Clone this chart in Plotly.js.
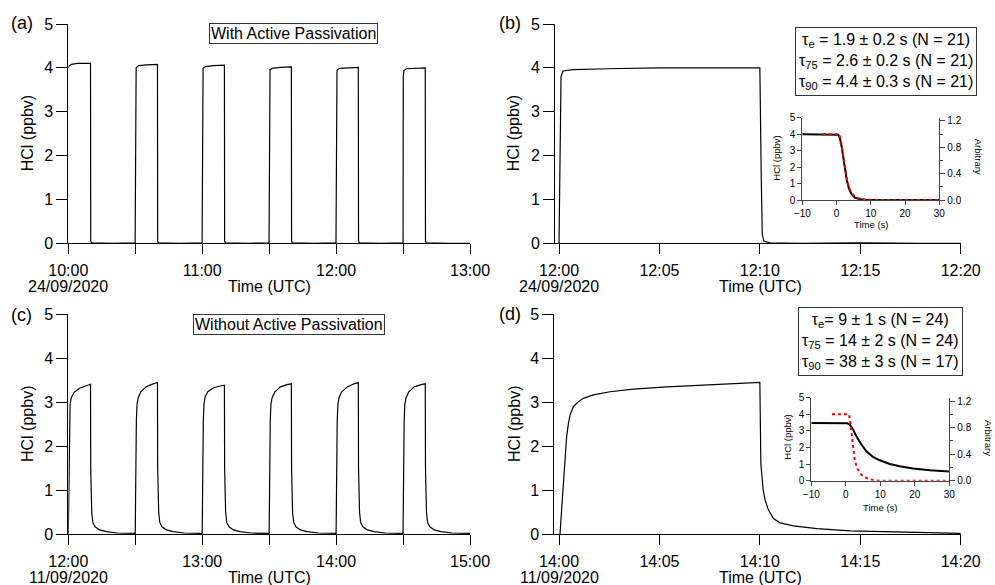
<!DOCTYPE html>
<html><head><meta charset="utf-8">
<script src="https://cdn.plot.ly/plotly-3.0.1.min.js"></script>
<style>html,body{margin:0;padding:0;background:#fff}#chart{width:995px;height:585px}</style>
</head><body><div id="chart"></div>
<script>
// ---------- data (minutes after the panel start time, HCl in ppbv) ----------
const dayA = '2020-09-24', dayC = '2020-09-11';
const dateLabelA = '24/09/2020', dateLabelC = '11/09/2020';

// (a) with active passivation, 10:00 - 13:00
const aMin = [0,0.3,1.5,4,9.95,10.05,10.4,20,29.95,
  30,30.1,30.4,31.5,35,39.95,40.05,40.4,50,59.95,
  60,60.1,60.4,61.5,65,69.95,70.05,70.4,80,89.95,
  90,90.1,90.4,91.5,95,99.95,100.05,100.4,110,119.95,
  120,120.1,120.4,121.5,125,129.95,130.05,130.4,140,149.95,
  150,150.1,150.4,151.5,155,159.95,160.05,160.4,170,180];
const aHCl = [4.0,4.04,4.08,4.1,4.1,0.05,0.01,0.0,0.01,
  0.01,3.85,4.0,4.05,4.07,4.08,0.05,0.01,0.0,0.01,
  0.01,3.85,3.99,4.03,4.05,4.06,0.05,0.01,0.0,0.01,
  0.01,3.82,3.96,3.99,4.01,4.02,0.05,0.01,0.0,0.01,
  0.01,3.82,3.95,3.99,4.0,4.01,0.05,0.01,0.0,0.01,
  0.01,3.8,3.94,3.98,3.99,4.0,0.05,0.01,0.0,0.0];

// (b) single pulse, 12:00 - 12:20
const bMin = [0,0.05,0.1,0.2,0.7,2.4,5,8,10.0,10.07,10.12,10.2,10.5,12,15,18,20];
const bHCl = [0,2.5,3.8,3.93,3.96,3.98,4.0,4.0,4.0,1.5,0.2,0.05,0.01,0.0,0.01,0.0,0.0];

// (c) without active passivation, 12:00 - 15:00
const cMin = [0,0.15,0.3,0.5,0.8,1.3,2.5,5,8,9.95,10.05,10.2,10.5,11,12,14,17,22,29.9,
  30,30.15,30.3,30.5,30.8,31.3,32.5,35,38,39.95,40.05,40.2,40.5,41,42,44,47,52,59.9,
  60,60.15,60.3,60.5,60.8,61.3,62.5,65,68,69.95,70.05,70.2,70.5,71,72,74,77,82,89.9,
  90,90.15,90.3,90.5,90.8,91.3,92.5,95,98,99.95,100.05,100.2,100.5,101,102,104,107,112,119.9,
  120,120.15,120.3,120.5,120.8,121.3,122.5,125,128,129.95,130.05,130.2,130.5,131,132,134,137,142,149.9,
  150,150.15,150.3,150.5,150.8,151.3,152.5,155,158,159.95,160.05,160.2,160.5,161,162,164,167,172,180];
const cHCl = [0,0.8,1.9,2.6,2.95,3.1,3.22,3.32,3.38,3.41,1.5,0.95,0.5,0.27,0.17,0.1,0.06,0.03,0.02,
  0.02,0.8,1.9,2.6,2.95,3.1,3.24,3.36,3.42,3.45,1.5,0.95,0.5,0.27,0.17,0.1,0.06,0.03,0.02,
  0.02,0.8,1.9,2.6,2.95,3.12,3.24,3.33,3.37,3.39,1.5,0.95,0.5,0.27,0.17,0.1,0.06,0.03,0.02,
  0.02,0.8,1.9,2.6,2.95,3.1,3.23,3.35,3.4,3.42,1.5,0.95,0.5,0.27,0.17,0.1,0.06,0.03,0.02,
  0.02,0.8,1.9,2.6,2.95,3.1,3.24,3.35,3.42,3.45,1.5,0.95,0.5,0.27,0.17,0.1,0.06,0.03,0.02,
  0.02,0.8,1.9,2.6,2.95,3.1,3.23,3.35,3.4,3.42,1.5,0.95,0.5,0.27,0.17,0.1,0.06,0.03,0.02];

// (d) single pulse, 14:00 - 14:20
const dMin = [0,0.05,0.13,0.22,0.3,0.38,0.47,0.55,0.71,0.96,1.21,1.71,2.54,3.7,5.37,7.03,8.5,10.0,
  10.05,10.17,10.26,10.43,10.68,11.0,11.67,12.84,14.5,17.0,20.0];
const dHCl = [0,0.0,0.55,1.23,1.84,2.22,2.52,2.71,2.9,3.01,3.09,3.17,3.24,3.3,3.35,3.39,3.42,3.45,
  1.6,1.0,0.78,0.55,0.36,0.26,0.19,0.13,0.08,0.045,0.02];

// insets: decay (time in s), HCl (ppbv) and fitted response (arbitrary)
const ibT = [-10,-5,0,0.5,0.8,1.0,1.5,2.0,2.5,3.0,3.6,4.4,5.4,6.9,8,10,15,20,25,30];
const ibHCl = [4.0,4.0,4.0,3.97,3.84,3.74,3.23,2.53,1.8,1.2,0.71,0.36,0.14,0.04,0.02,0.01,0,0,0,0];
const ibFitT = [-4,0,0.8,1.2,1.6,2.0,2.5,3.0,3.5,4.0,5.0,6.0,7.0,8.5,10,15,20,25,30];
const ibFit = [1,1,1,0.93,0.8,0.64,0.47,0.33,0.22,0.15,0.07,0.035,0.015,0.006,0.002,0,0,0,0];

const idT = [-10,-5,0,0.5,1.13,2.1,3.07,4.52,5.97,7.9,9.84,12.75,15.65,19.5,24.4,30];
const idHCl = [3.47,3.47,3.47,3.46,3.39,3.09,2.68,2.18,1.77,1.43,1.23,1.01,0.87,0.73,0.63,0.55];
const idFitT = [-4,0,0.93,1.32,1.7,2.1,2.58,3.26,4.52,5.97,7.9,9.84,15,20,25,30];
const idFit = [1,1,1,0.87,0.67,0.47,0.32,0.19,0.09,0.04,0.01,0.0,0,0,0,0];

// ticks
const aTickMin = [0,60,120,180];
const aTickText = ['10:00','11:00','12:00','13:00'];
const bTickMin = [0,5,10,15,20];
const bTickText = ['12:00','12:05','12:10','12:15','12:20'];
const cTickText = ['12:00','13:00','14:00','15:00'];
const dTickText = ['14:00','14:05','14:10','14:15','14:20'];

// ---------- helpers ----------
function pad(n){return (n<10?'0':'')+n;}
function ts(day,h0,m0,min){
  const ms = Math.round(((h0*60+m0)+min)*60000);
  const h = Math.floor(ms/3600000), m = Math.floor((ms%3600000)/60000), s = (ms%60000)/1000;
  return day+' '+pad(h)+':'+pad(m)+':'+(s<10?'0':'')+s.toFixed(3);
}
const W=995, H=585;
function px(x){return x/W;} function py(y){return 1-y/H;}

const FONT = 'Liberation Sans, Arial, sans-serif';
const line = {color:'#000', width:1.2};

const traces = [
  {x:aMin.map(m=>ts(dayA,10,0,m)), y:aHCl, xaxis:'x', yaxis:'y', mode:'lines', line:line, name:'(a)'},
  {x:bMin.map(m=>ts(dayA,12,0,m)), y:bHCl, xaxis:'x2', yaxis:'y2', mode:'lines', line:line, name:'(b)'},
  {x:cMin.map(m=>ts(dayC,12,0,m)), y:cHCl, xaxis:'x3', yaxis:'y3', mode:'lines', line:line, name:'(c)'},
  {x:dMin.map(m=>ts(dayC,14,0,m)), y:dHCl, xaxis:'x4', yaxis:'y4', mode:'lines', line:line, name:'(d)'},
  {x:ibT, y:ibHCl, xaxis:'x5', yaxis:'y5', mode:'lines', line:{color:'#000',width:2}, name:'inset b HCl'},
  {x:ibFitT, y:ibFit, xaxis:'x5', yaxis:'y6', mode:'lines', line:{color:'#ff0000',width:2,dash:'dot'}, name:'inset b fit'},
  {x:idT, y:idHCl, xaxis:'x6', yaxis:'y7', mode:'lines', line:{color:'#000',width:2}, name:'inset d HCl'},
  {x:idFitT, y:idFit, xaxis:'x6', yaxis:'y8', mode:'lines', line:{color:'#ff0000',width:2,dash:'dot'}, name:'inset d fit'}
];

function mainX(dom, range, tickvals, ticktext, anchor, minorMs){
  const ax = {domain:dom, range:range, type:'date', anchor:anchor, tickmode:'array', tickvals:tickvals, ticktext:ticktext,
    showline:true, linecolor:'#000', linewidth:1, ticks:'outside', ticklen:10, tickwidth:1, tickcolor:'#000',
    showgrid:false, zeroline:false, tickfont:{family:FONT,size:16,color:'#000'}, ticklabelstandoff:2};
  if (minorMs) ax.minor = {dtick:minorMs, tick0:range[0], ticks:'outside', ticklen:10, tickwidth:1, tickcolor:'#000', showgrid:false};
  return ax;
}
function mainY(dom, anchor){
  return {domain:dom, range:[0,5], anchor:anchor, tickvals:[0,1,2,3,4,5], showline:true, linecolor:'#000', linewidth:1,
    ticks:'outside', ticklen:11, tickwidth:1, tickcolor:'#000', showgrid:false, zeroline:false,
    tickfont:{family:FONT,size:16,color:'#000'}};
}
const ICOL = '#444';
function insetX(dom, anchor){
  return {domain:dom, range:[-10,30], anchor:anchor, tickvals:[-10,0,10,20,30], showline:true, linecolor:ICOL, linewidth:1,
    ticks:'outside', ticklen:4, tickcolor:ICOL, showgrid:false, zeroline:false, tickfont:{family:FONT,size:10,color:'#000'}};
}
function insetY(dom, anchor){
  return {domain:dom, range:[0,5], anchor:anchor, tickvals:[0,1,2,3,4,5], showline:true, linecolor:ICOL, linewidth:1,
    ticks:'outside', ticklen:4, tickcolor:ICOL, showgrid:false, zeroline:false, tickfont:{family:FONT,size:10,color:'#000'}};
}
function insetY2(over, anchor){
  return {overlaying:over, side:'right', anchor:anchor, range:[0,1.25], tickvals:[0,0.4,0.8,1.2], ticktext:['0.0','0.4','0.8','1.2'],
    showline:true, linecolor:ICOL, linewidth:1, ticks:'outside', ticklen:5, tickcolor:ICOL, showgrid:false, zeroline:false,
    minor:{tickvals:[0.2,0.6,1.0], ticklen:3, tickcolor:ICOL, ticks:'outside'},
    tickfont:{family:FONT,size:10,color:'#000'}};
}

const xdomL = [px(68.3), px(470)], xdomR_b = [px(555), px(960.7)], xdomR_d = [px(554.3), px(960.7)];
const ydomT = [py(243.3), py(24)], ydomB = [py(534.3), py(314.3)];

const ann = [];
function A(text,x,y,size,extra){ann.push(Object.assign({text:text, x:px(x), y:py(y), xref:'paper', yref:'paper', showarrow:false,
  xanchor:'center', yanchor:'middle', font:{family:FONT,size:size,color:'#000'}}, extra||{}));}
A('(a)',21.7,23.3,18); A('(b)',510,23.3,18); A('(c)',21.7,314.5,18); A('(d)',510,314,18);
A('HCl (ppbv)',27,133.3,16,{textangle:-90}); A('HCl (ppbv)',513,133.3,16,{textangle:-90});
A('HCl (ppbv)',27,424,16,{textangle:-90}); A('HCl (ppbv)',514,424,16,{textangle:-90});
A('Time (UTC)',269.3,286,16); A('Time (UTC)',760,286,16);
A('Time (UTC)',269.3,577.5,16); A('Time (UTC)',760,577.5,16);
A(dateLabelA,68.3,286,16); A(dateLabelA,559,286,16);
A(dateLabelC,68.3,577.5,16); A(dateLabelC,559,577.5,16);
A('With Active Passivation',293,33,16,{bordercolor:'#333',borderwidth:1,borderpad:1});
A('Without Active Passivation',288.5,324.5,16,{bordercolor:'#333',borderwidth:1,borderpad:1});
A('τ<sub>e</sub> = 1.9 ± 0.2 s (N = 21)<br>τ<sub>75</sub> = 2.6 ± 0.2 s (N = 21)<br>τ<sub>90</sub> = 4.4 ± 0.3 s (N = 21)',886,61.5,16,
  {bordercolor:'#333',borderwidth:1,borderpad:3,align:'center'});
A('τ<sub>e</sub>= 9 ± 1 s (N = 24)<br>τ<sub>75</sub> = 14 ± 2 s (N = 24)<br>τ<sub>90</sub> = 38 ± 3 s (N = 17)',880,341.5,16,
  {bordercolor:'#333',borderwidth:1,borderpad:3,align:'center'});
// inset titles
A('HCl (ppbv)',776.7,158,9.5,{textangle:-90}); A('Arbitrary',978.3,157,9.5,{textangle:90}); A('Time (s)',871,225,9.5);
A('HCl (ppbv)',786.7,437,9.5,{textangle:-90}); A('Arbitrary',989,438,9.5,{textangle:90}); A('Time (s)',880,507,9.5);

const HALF = 30*60000;
const layout = {
  width:W, height:H, margin:{l:0,r:0,t:0,b:0}, paper_bgcolor:'#fff', plot_bgcolor:'rgba(0,0,0,0)', showlegend:false,
  font:{family:FONT,color:'#000'},
  xaxis: mainX(xdomL, [ts(dayA,10,0,0), ts(dayA,10,0,180)], aTickMin.map(m=>ts(dayA,10,0,m)), aTickText, 'y', HALF),
  yaxis: mainY(ydomT, 'x'),
  xaxis2: mainX(xdomR_b, [ts(dayA,12,0,-0.2), ts(dayA,12,0,20)], bTickMin.map(m=>ts(dayA,12,0,m)), bTickText, 'y2'),
  yaxis2: mainY(ydomT, 'x2'),
  xaxis3: mainX(xdomL, [ts(dayC,12,0,0), ts(dayC,12,0,180)], aTickMin.map(m=>ts(dayC,12,0,m)), cTickText, 'y3', HALF),
  yaxis3: mainY(ydomB, 'x3'),
  xaxis4: mainX(xdomR_d, [ts(dayC,14,0,-0.234), ts(dayC,14,0,20)], bTickMin.map(m=>ts(dayC,14,0,m)), dTickText, 'y4'),
  yaxis4: mainY(ydomB, 'x4'),
  xaxis5: insetX([px(802.3), px(939.3)], 'y5'),
  yaxis5: insetY([py(200), py(117.7)], 'x5'),
  yaxis6: insetY2('y5', 'x5'),
  xaxis6: insetX([px(811.3), px(949.3)], 'y7'),
  yaxis7: insetY([py(480.7), py(397.7)], 'x6'),
  yaxis8: insetY2('y7', 'x6'),
  annotations: ann
};
Plotly.newPlot('chart', traces, layout, {displayModeBar:false, staticPlot:true});
</script></body></html>
